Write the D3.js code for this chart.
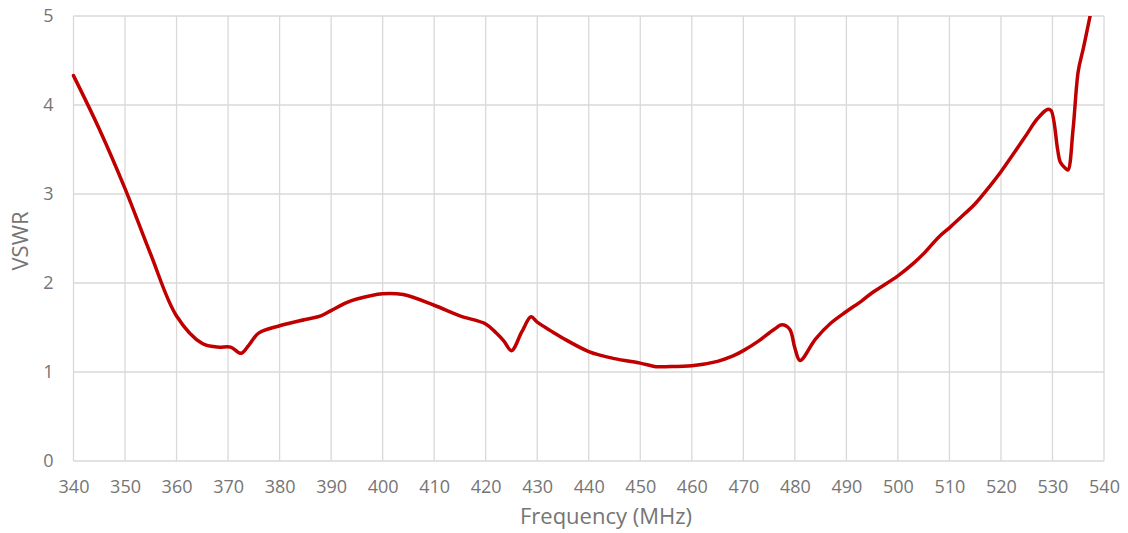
<!DOCTYPE html>
<html>
<head>
<meta charset="utf-8">
<script src="https://cdn.jsdelivr.net/npm/d3@7"></script>
<style>
  body { margin: 0; background: #fff; }
  text { font-family: "Open Sans", sans-serif; fill: #757575; }
</style>
</head>
<body>
<div id="wrapper"></div>
<script>
// frequencia (MHz) e VSWR
const freq = [340, 345, 350, 355, 360, 365, 368, 370.5, 372.5, 374, 376, 380, 385, 388, 390, 393, 395, 400,
  404, 410, 415, 420, 422, 423.5, 425, 427, 428.8, 430, 433, 435, 440, 445, 450, 453, 455, 460, 465, 468,
  470, 473, 476, 477.5, 479, 480, 481, 484, 487, 490, 493, 495, 500, 503, 505, 508, 510, 513, 515, 518,
  520, 523, 525, 527, 529, 529.7, 531, 531.5, 532.5, 533, 534, 535, 536, 537.3];
const vswr = [4.33, 3.73, 3.06, 2.32, 1.63, 1.32, 1.28, 1.28, 1.21, 1.3, 1.44, 1.52, 1.59, 1.63, 1.69, 1.78, 1.82, 1.88,
  1.87, 1.75, 1.63, 1.54, 1.44, 1.35, 1.24, 1.45, 1.62, 1.56, 1.45, 1.38, 1.23, 1.15, 1.1, 1.06, 1.06, 1.07, 1.12, 1.18,
  1.24, 1.35, 1.48, 1.53, 1.48, 1.27, 1.13, 1.37, 1.55, 1.68, 1.8, 1.89, 2.08, 2.22, 2.33, 2.52, 2.62, 2.78, 2.89, 3.1,
  3.25, 3.5, 3.67, 3.84, 3.95, 3.94, 3.5, 3.36, 3.29, 3.27, 3.73, 4.38, 4.64, 5.0];
const xTicks = d3.range(340, 541, 10);
const yTicks = [0, 1, 2, 3, 4, 5];

function draw() {
  const dimensions = {
    width: 1128,
    height: 533,
    margin: { top: 16, right: 24, bottom: 72, left: 73.5 }
  };
  const innerW = dimensions.width - dimensions.margin.left - dimensions.margin.right;
  const innerH = dimensions.height - dimensions.margin.top - dimensions.margin.bottom;

  const svg = d3.select("#wrapper")
    .append("svg")
      .attr("width", dimensions.width)
      .attr("height", dimensions.height);

  const bounds = svg.append("g")
    .attr("transform", "translate(" + dimensions.margin.left + "," + dimensions.margin.top + ")");

  const x = d3.scaleLinear().domain([340, 540]).range([0, innerW]);
  const y = d3.scaleLinear().domain([0, 5]).range([innerH, 0]);

  // grade
  bounds.append("g")
    .selectAll("line")
    .data(xTicks)
    .enter()
    .append("line")
      .attr("x1", d => x(d)).attr("x2", d => x(d))
      .attr("y1", 0).attr("y2", innerH)
      .attr("stroke", "#d9d9d9").attr("stroke-width", 1.3);
  bounds.append("g")
    .selectAll("line")
    .data(yTicks)
    .enter()
    .append("line")
      .attr("x1", 0).attr("x2", innerW)
      .attr("y1", d => y(d)).attr("y2", d => y(d))
      .attr("stroke", "#d9d9d9").attr("stroke-width", 1.3);

  // eixos
  const xAxis = bounds.append("g")
    .attr("transform", "translate(0," + innerH + ")")
    .call(d3.axisBottom(x).tickValues(xTicks).tickSize(0).tickPadding(19));
  xAxis.select(".domain").remove();
  xAxis.selectAll("text").style("font-size", "18px").attr("fill", "#757575");

  const yAxis = bounds.append("g")
    .call(d3.axisLeft(y).tickValues(yTicks).tickFormat(d3.format("d")).tickSize(0).tickPadding(20));
  yAxis.select(".domain").remove();
  yAxis.selectAll("text").style("font-size", "18px").attr("fill", "#757575");

  bounds.append("defs").append("clipPath").attr("id", "clip")
    .append("rect").attr("x", -5).attr("y", 0).attr("width", innerW + 10).attr("height", innerH);

  const line = d3.line()
    .x((d, i) => x(freq[i]))
    .y(d => y(d))
    .curve(d3.curveCatmullRom.alpha(0.5));

  bounds.append("path")
    .attr("clip-path", "url(#clip)")
    .attr("d", line(vswr))
    .attr("fill", "none")
    .attr("stroke", "#c00000")
    .attr("stroke-width", 3.5)
    .attr("stroke-linejoin", "round")
    .attr("stroke-linecap", "round");

  svg.append("text")
    .attr("x", 606)
    .attr("y", 524)
    .attr("text-anchor", "middle")
    .style("font-size", "22px")
    .text("Frequency (MHz)");

  svg.append("text")
    .attr("transform", "translate(28," + 241 + ") rotate(-90)")
    .attr("text-anchor", "middle")
    .style("font-size", "22px")
    .text("VSWR");
}
draw();
</script>
</body>
</html>
